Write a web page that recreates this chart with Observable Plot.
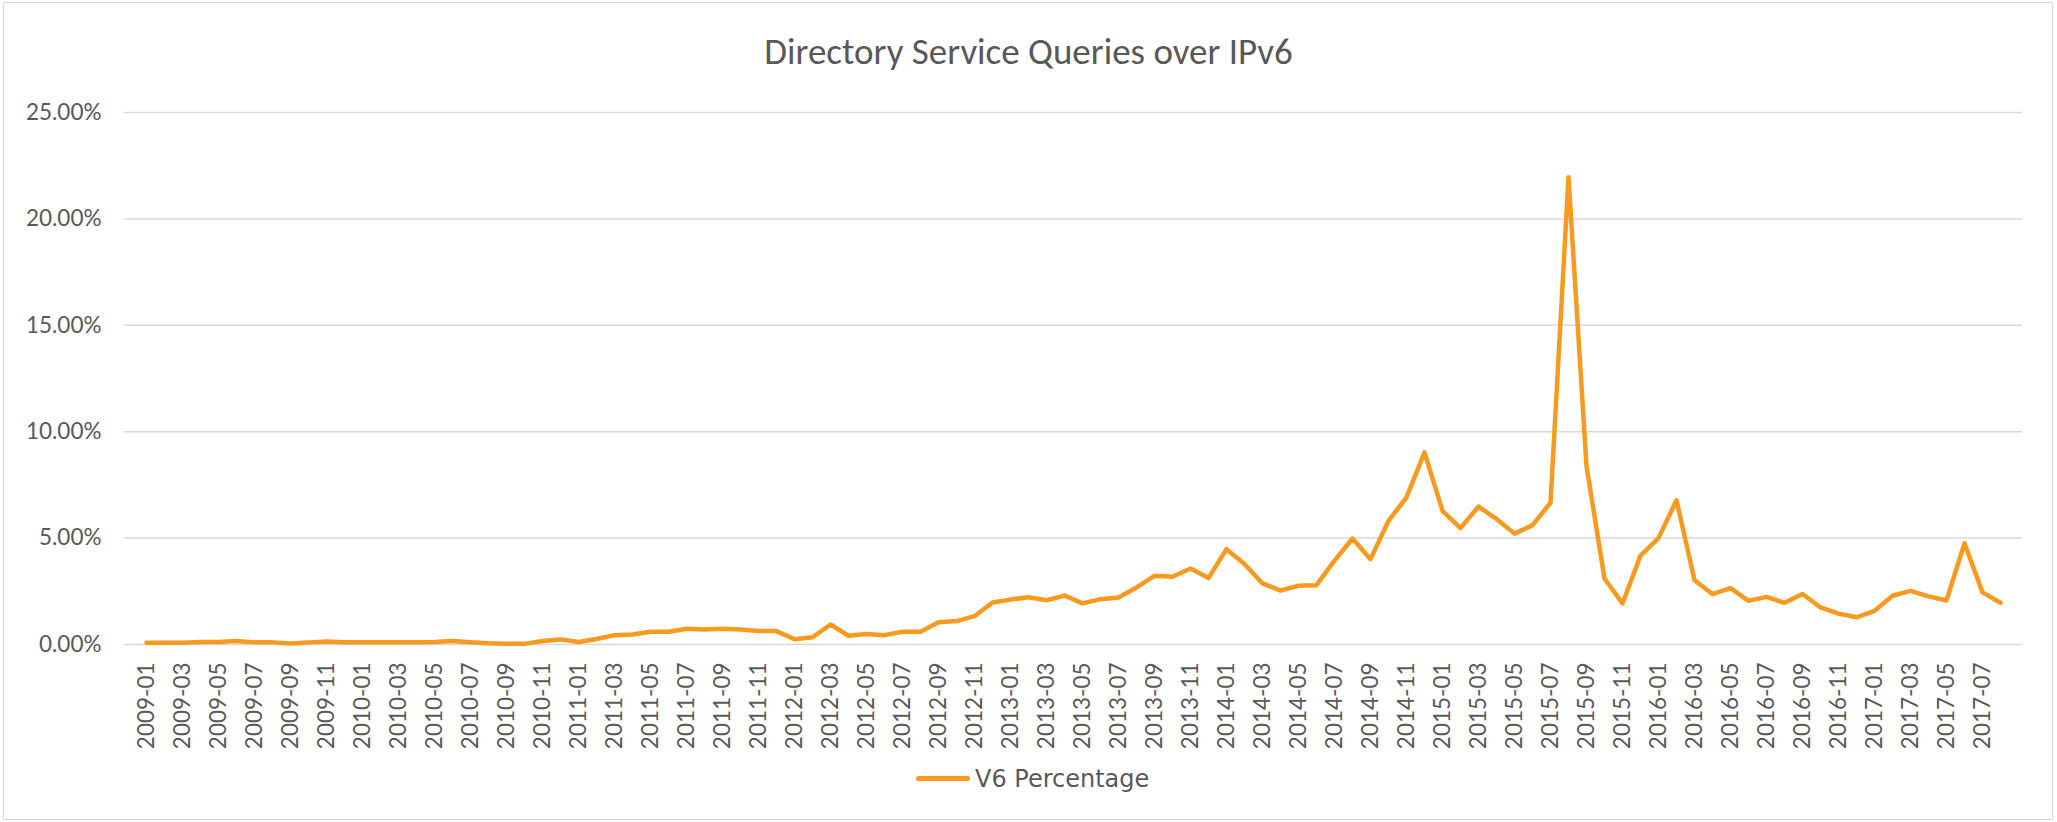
<!DOCTYPE html>
<html>
<head>
<meta charset="utf-8">
<script src="https://cdn.jsdelivr.net/npm/d3@7"></script>
<script src="https://cdn.jsdelivr.net/npm/@observablehq/plot@0.6"></script>
<style>
  html, body { margin: 0; padding: 0; background: #fff; }
  #chart { position: relative; width: 2057px; height: 822px; overflow: hidden; background: #fff; }
  #frame { position: absolute; left: 3px; top: 2px; width: 2050px; height: 818px; border: 1.5px solid #d9d9d9; box-sizing: border-box; }
  #title { position: absolute; left: 0; top: 33px; width: 2057px; text-align: center;
           font-family: "Carlito", "Open Sans", sans-serif; font-size: 37px; line-height: 1; color: #595959; white-space: nowrap; }
  #plot { position: absolute; left: 0; top: 90px; }
  #swatch { position: absolute; left: 916px; top: 776px; width: 54px; height: 4.5px; border-radius: 2.25px; background: #f89a1e; }
  #legendLabel { position: absolute; left: 975px; top: 767px; font-family: "DejaVu Sans", sans-serif; font-size: 24px;
                 line-height: 1; color: #595959; white-space: nowrap; }
</style>
</head>
<body>
<div id="chart">
  <div id="frame"></div>
  <div id="title"></div>
  <div id="plot"></div>
  <div id="swatch"></div>
  <div id="legendLabel"></div>
</div>
<script>
const chartTitle = "Directory Service Queries over IPv6";
const seriesName = "V6 Percentage";

const months = [
  "2009-01","2009-02","2009-03","2009-04","2009-05","2009-06","2009-07","2009-08","2009-09","2009-10","2009-11","2009-12",
  "2010-01","2010-02","2010-03","2010-04","2010-05","2010-06","2010-07","2010-08","2010-09","2010-10","2010-11","2010-12",
  "2011-01","2011-02","2011-03","2011-04","2011-05","2011-06","2011-07","2011-08","2011-09","2011-10","2011-11","2011-12",
  "2012-01","2012-02","2012-03","2012-04","2012-05","2012-06","2012-07","2012-08","2012-09","2012-10","2012-11","2012-12",
  "2013-01","2013-02","2013-03","2013-04","2013-05","2013-06","2013-07","2013-08","2013-09","2013-10","2013-11","2013-12",
  "2014-01","2014-02","2014-03","2014-04","2014-05","2014-06","2014-07","2014-08","2014-09","2014-10","2014-11","2014-12",
  "2015-01","2015-02","2015-03","2015-04","2015-05","2015-06","2015-07","2015-08","2015-09","2015-10","2015-11","2015-12",
  "2016-01","2016-02","2016-03","2016-04","2016-05","2016-06","2016-07","2016-08","2016-09","2016-10","2016-11","2016-12",
  "2017-01","2017-02","2017-03","2017-04","2017-05","2017-06","2017-07","2017-08"
];

// V6 percentage (in %)
const v6Percentage = [
  0.08,0.08,0.08,0.12,0.12,0.16,0.10,0.10,0.05,0.10,0.14,0.10,
  0.10,0.10,0.10,0.10,0.12,0.17,0.11,0.06,0.03,0.03,0.16,0.24,
  0.12,0.26,0.44,0.47,0.60,0.60,0.74,0.70,0.74,0.70,0.63,0.63,
  0.25,0.34,0.94,0.41,0.49,0.44,0.60,0.60,1.05,1.10,1.33,1.97,
  2.11,2.22,2.08,2.30,1.93,2.13,2.21,2.68,3.23,3.18,3.57,3.12,
  4.48,3.78,2.87,2.53,2.76,2.79,3.94,4.98,4.01,5.81,6.91,9.03,
  6.28,5.47,6.48,5.90,5.21,5.61,6.66,21.96,8.38,3.10,1.93,4.18,
  5.00,6.78,3.02,2.37,2.65,2.05,2.24,1.96,2.37,1.74,1.45,1.28,
  1.58,2.29,2.52,2.26,2.07,4.76,2.45,1.96
];

const yTicks = [0, 5, 10, 15, 20, 25];
const xTickLabels = months.filter((d, i) => i % 2 === 0);

const data = months.map((m, i) => ({month: m, value: v6Percentage[i]}));

document.getElementById("title").textContent = chartTitle;
document.getElementById("legendLabel").textContent = seriesName;

const plot = Plot.plot({
  width: 2057,
  height: 664,
  marginTop: 22,
  marginBottom: 110,
  marginLeft: 124,
  marginRight: 35,
  x: {type: "point", domain: months, padding: 0.5},
  y: {domain: [0, 25]},
  style: {fontFamily: "Lato, sans-serif", fontSize: "22.5px", color: "#595959", background: "transparent"},
  marks: [
    Plot.gridY(yTicks, {stroke: "#d9d9d9", strokeOpacity: 1, strokeWidth: 1.5}),
    Plot.axisY(yTicks, {tickSize: 0, tickPadding: 23, tickFormat: d => d.toFixed(2) + "%", label: null, fontSize: 22.5}),
    Plot.axisX(xTickLabels, {tickSize: 0, tickPadding: 18, tickRotate: -90, label: null, fontSize: 22.5}),
    Plot.line(data, {x: "month", y: "value", stroke: "#f89a1e", strokeWidth: 4.5, strokeLinejoin: "round", strokeLinecap: "round"})
  ]
});
document.getElementById("plot").appendChild(plot);
</script>
</body>
</html>
